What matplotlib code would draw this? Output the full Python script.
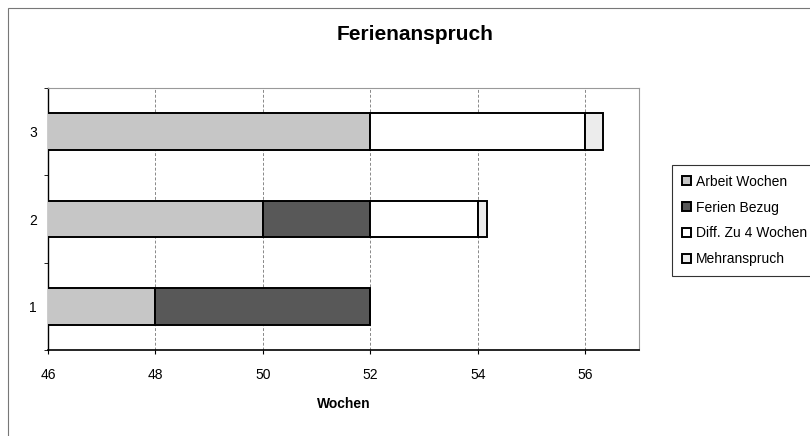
import matplotlib
matplotlib.use("Agg")
import matplotlib.pyplot as plt
from matplotlib.patches import Rectangle
import numpy as np

plt.rcParams['font.family'] = ['Liberation Sans', 'DejaVu Sans']

categories = ["1", "2", "3"]
series_names = ["Arbeit Wochen", "Ferien Bezug", "Diff. Zu 4 Wochen", "Mehranspruch"]
arbeit = [48, 50, 52]
ferien = [4, 2, 0]
diff4 = [0, 2, 4]
mehr = [0, 0.17, 0.33]
x_ticks = [46, 48, 50, 52, 54, 56]

colors = ["#c6c6c6", "#585858", "#ffffff", "#ececec"]

fig = plt.figure(figsize=(8.1, 4.36), dpi=100)
ax = fig.add_axes([48/810, 1-350/436, (639-48)/810, (350-88)/436])

ypos = np.arange(1, len(categories)+1)
left = np.zeros(len(categories))
for name, vals, c in zip(series_names, [arbeit, ferien, diff4, mehr], colors):
    vals = np.array(vals, dtype=float)
    ax.barh(ypos, vals, left=left, height=0.42, color=c, edgecolor="black",
            linewidth=1.4, label=name, zorder=3)
    left += vals

ax.set_xlim(46, 57)
ax.set_ylim(0.5, 3.5)
ax.set_xticks(x_ticks)
ax.set_xticklabels([str(t) for t in x_ticks], fontsize=10)
ax.set_yticks(ypos)
ax.set_yticklabels(categories, fontsize=10)
ax.set_yticks([0.5, 1.5, 2.5, 3.5], minor=True)
ax.tick_params(axis='y', which='major', length=0, pad=8)
ax.tick_params(axis='y', which='minor', length=3, direction='out')
ax.tick_params(axis='x', which='major', length=3, direction='out', pad=10)

ax.grid(axis='x', color="#888888", linestyle=(0, (3, 2)), linewidth=0.7, zorder=0)
for s in ["top", "right"]:
    ax.spines[s].set_color("#999999")
    ax.spines[s].set_linewidth(0.8)
ax.spines["top"].set_linestyle((0, (2, 1)))
ax.spines["left"].set_linewidth(1.0)
ax.spines["bottom"].set_linewidth(1.2)

ax.set_xlabel("Wochen", fontsize=10, fontweight="bold", labelpad=11)
fig.text(415/810, 1-35/436, "Ferienanspruch", ha="center", va="center",
         fontsize=15, fontweight="bold")

leg = fig.legend(loc="upper left", bbox_to_anchor=(672/810, 1-165/436),
                 fontsize=10, frameon=True, fancybox=False, edgecolor="black",
                 handlelength=0.65, handleheight=0.65, handletextpad=0.4,
                 labelspacing=0.85, borderpad=0.7, borderaxespad=0)
leg.get_frame().set_linewidth(0.8)

fig.patches.append(Rectangle((8/810, -0.1), 1.2, 1.1-8/436, transform=fig.transFigure,
                             fill=False, edgecolor="#777777", linewidth=0.8))

fig.savefig("out.png", dpi=100)
